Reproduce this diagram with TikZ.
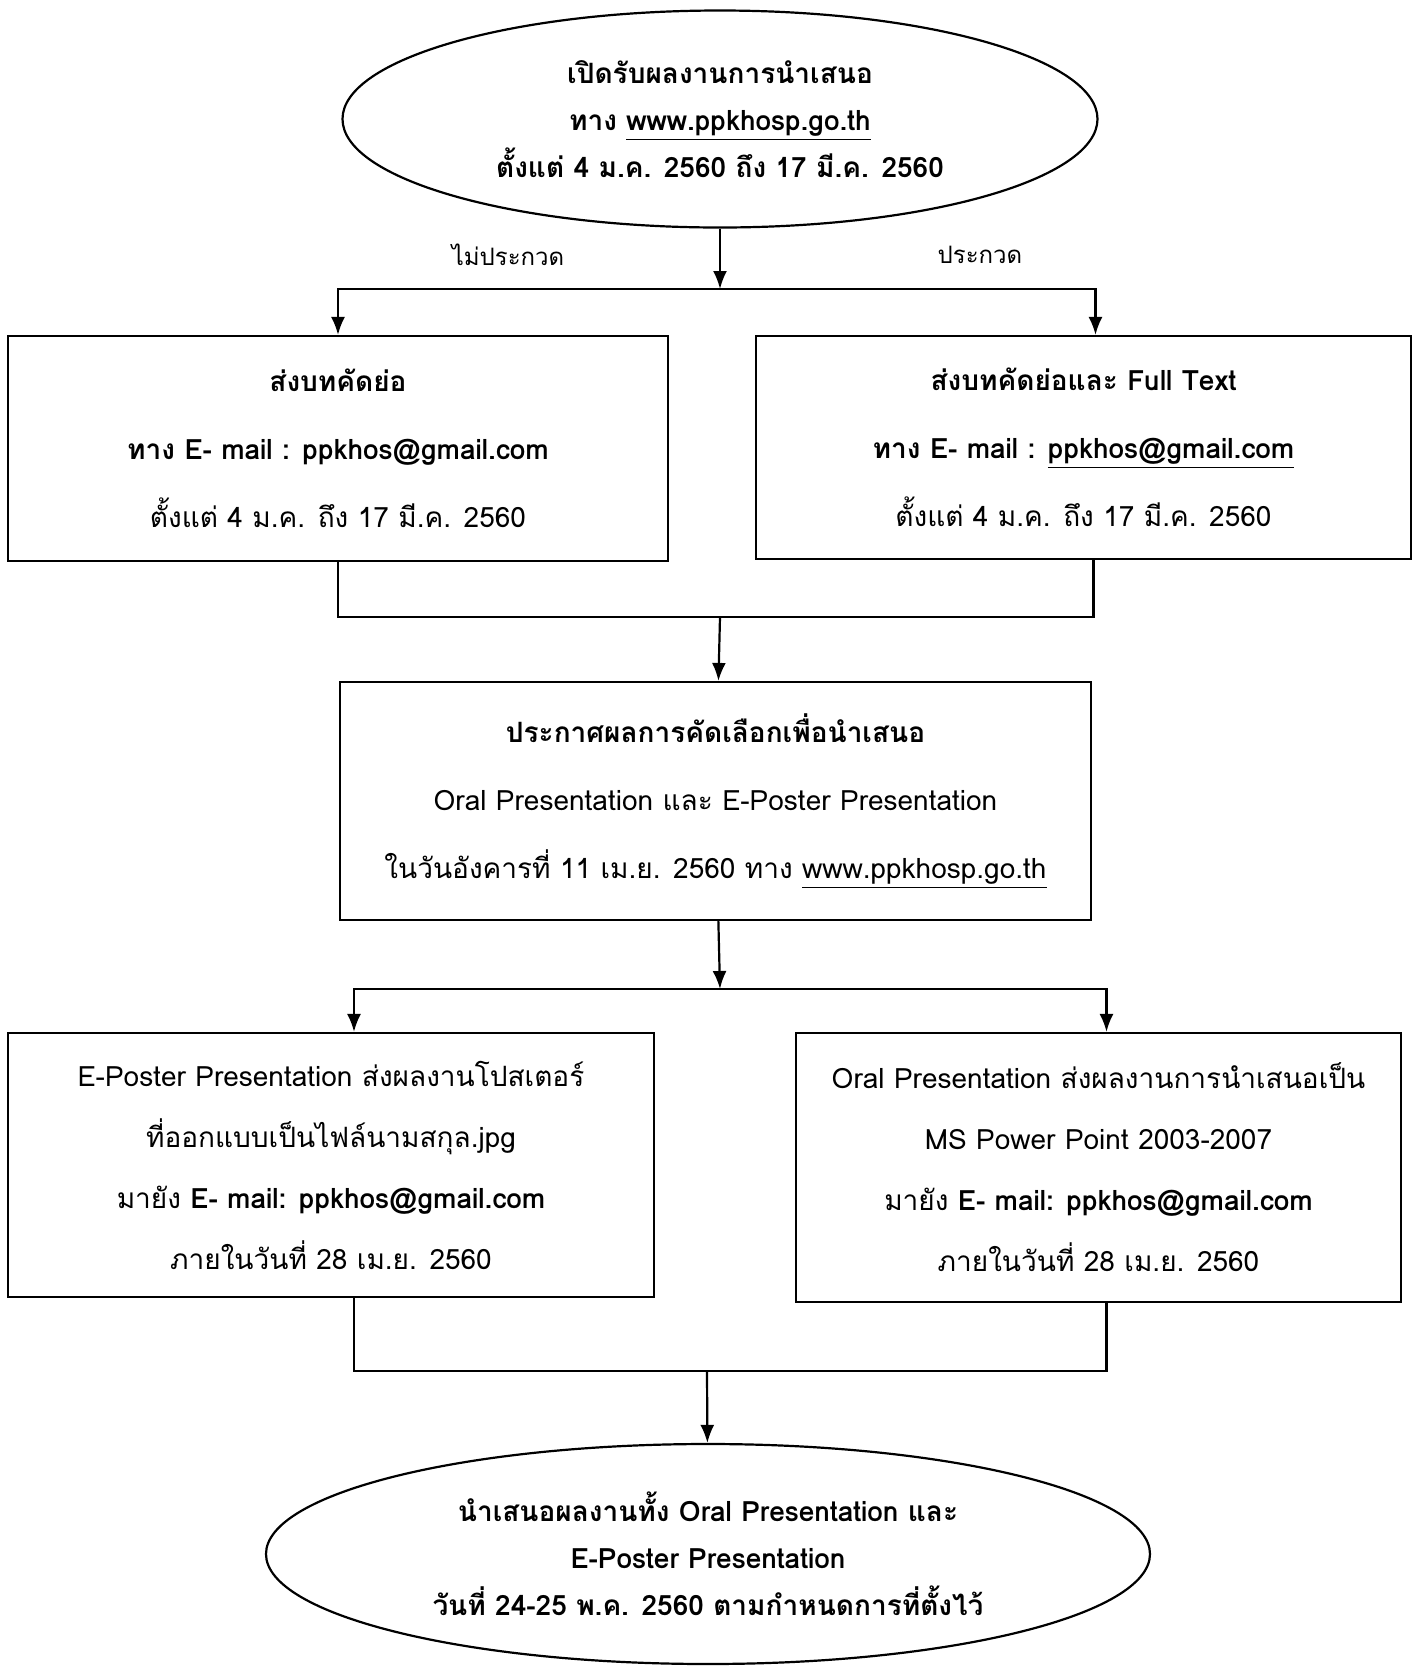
\documentclass[tikz,border=0pt]{standalone}
\usepackage{fontspec}
\setmainfont[Script=Thai]{Loma}
\usetikzlibrary{shapes.geometric,arrows.meta}

\tikzset{
	box/.style={rectangle, draw=black, line width=1.1pt, align=center, inner sep=0pt,
		font=\fontsize{14}{34}\selectfont},
	postbox/.style={box, font=\fontsize{14}{30.5}\selectfont},
	oval/.style={ellipse, draw=black, line width=1.1pt, align=center, inner sep=0pt,
		font=\bfseries\fontsize{14}{23.4}\selectfont},
	link/.style={line width=1.1pt},
	flow/.style={link, -{Latex[length=9pt,width=7pt]}},
	tag/.style={font=\fontsize{12}{14}\selectfont}
}

\begin{document}
\begin{tikzpicture}[x=0.5pt, y=-0.5pt]
	\useasboundingbox (0,0) rectangle (1418,1667);

	\node[oval, minimum width=377.5pt, minimum height=108.5pt] (open) at (720,119)
		{เปิดรับผลงานการนำเสนอ\\ทาง \underline{www.ppkhosp.go.th}\\ตั้งแต่ 4 ม.ค. 2560 ถึง 17 มี.ค. 2560};

	\node[box, minimum width=329.75pt, minimum height=112.5pt] (abstract) at (338,448.5)
		{\textbf{ส่งบทคัดย่อ}\\\textbf{ทาง E- mail : ppkhos@gmail.com}\\ตั้งแต่ 4 ม.ค. ถึง 17 มี.ค. 2560};
	\node[box, minimum width=327.5pt, minimum height=111.5pt] (fulltext) at (1083.5,447.5)
		{\textbf{ส่งบทคัดย่อและ Full Text}\\\textbf{ทาง E- mail : \underline{ppkhos@gmail.com}}\\ตั้งแต่ 4 ม.ค. ถึง 17 มี.ค. 2560};

	\node[box, minimum width=375.5pt, minimum height=119pt] (announce) at (715.5,801)
		{\textbf{ประกาศผลการคัดเลือกเพื่อนำเสนอ}\\Oral Presentation และ E-Poster Presentation\\ในวันอังคารที่ 11 เม.ย. 2560 ทาง \underline{www.ppkhosp.go.th}};

	\node[postbox, minimum width=322.75pt, minimum height=132pt] (poster) at (331,1165)
		{E-Poster Presentation ส่งผลงานโปสเตอร์\\ที่ออกแบบเป็นไฟล์นามสกุล.jpg\\มายัง \textbf{E- mail: ppkhos@gmail.com}\\ภายในวันที่ 28 เม.ย. 2560};
	\node[postbox, minimum width=302.5pt, minimum height=134.5pt] (oral) at (1098.5,1167.5)
		{Oral Presentation ส่งผลงานการนำเสนอเป็น\\MS Power Point 2003-2007\\มายัง \textbf{E- mail: ppkhos@gmail.com}\\ภายในวันที่ 28 เม.ย. 2560};

	\node[oval, minimum width=442pt, minimum height=110pt] (present) at (708,1554)
		{นำเสนอผลงานทั้ง Oral Presentation และ\\E-Poster Presentation\\วันที่ 24-25 พ.ค. 2560 ตามกำหนดการที่ตั้งไว้};

	\coordinate (split1) at (720,289);
	\coordinate (join1) at (720,617);
	\coordinate (split2) at (720,989);
	\coordinate (join2) at (707,1371);

	\node[tag] (nocontest) at (508,255) {ไม่ประกวด};
	\node[tag] (contest) at (980,255) {ประกวด};

	% first split
	\draw[flow] (open) -- (split1);
	\draw[flow] (split1) -| (abstract);
	\draw[flow] (split1) -| ([xshift=6pt]fulltext.north);

	\draw[link] (abstract.south) |- (join1) -| ([xshift=5pt]fulltext.south);
	\draw[flow] (join1) -- (announce);

	% second split
	\draw[flow] (announce) -- (split2);
	\draw[flow] (split2) -| ([xshift=11.5pt]poster.north);
	\draw[flow] (split2) -| ([xshift=4pt]oral.north);

	\draw[link] ([xshift=11.5pt]poster.south) |- (join2) -| ([xshift=4pt]oral.south);
	\draw[flow] (join2) -- (present);

\end{tikzpicture}
\end{document}
